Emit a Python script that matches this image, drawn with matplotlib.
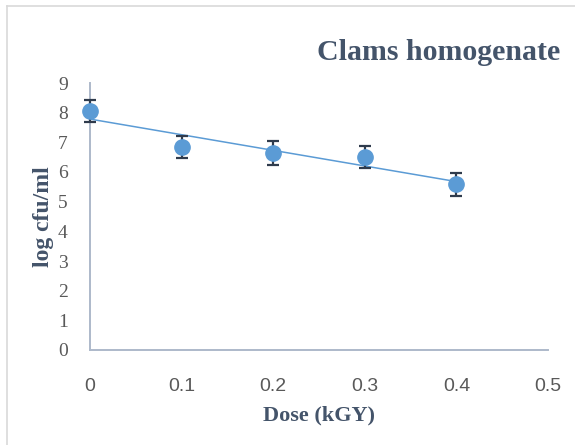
import numpy as np
import matplotlib
matplotlib.use("Agg")
import matplotlib.pyplot as plt
from matplotlib.lines import Line2D

# data
dose = [0.0, 0.1, 0.2, 0.3, 0.4]
log_cfu = [8.05, 6.85, 6.65, 6.52, 5.58]
err = [0.38, 0.38, 0.40, 0.37, 0.38]
x_ticks = [0, 0.1, 0.2, 0.3, 0.4, 0.5]
x_tick_labels = ["0", "0.1", "0.2", "0.3", "0.4", "0.5"]
y_ticks = list(range(0, 10))

blue = "#5B9BD5"
dark = "#2F3B4C"
spine_col = "#ADB9CA"
text_col = "#44546A"

fig = plt.figure(figsize=(5.75, 4.45), dpi=100)
ax = fig.add_axes([90 / 575, 95 / 445, 458 / 575, 267 / 445])

# linear trendline over the measured range
slope, intercept = np.polyfit(dose, log_cfu, 1)
tx = np.array([min(dose), max(dose)])
ax.plot(tx, slope * tx + intercept, color=blue, linewidth=1.1, zorder=2)

markers, caps, bars = ax.errorbar(dose, log_cfu, yerr=err, fmt="o", color=blue, markersize=11,
                                  ecolor=dark, elinewidth=1.6, capsize=4.5, capthick=1.6, zorder=3)
markers.set_clip_on(False)
for c in caps:
    c.set_clip_on(False)
for b in bars:
    b.set_clip_on(False)

ax.set_xlim(0, 0.5)
ax.set_ylim(0, 9)
ax.set_xticks(x_ticks)
ax.set_xticklabels(x_tick_labels, family="Liberation Sans", fontsize=14, color="#595959")
ax.set_yticks(y_ticks)
ax.set_yticklabels([str(v) for v in y_ticks], family="Liberation Serif", fontsize=14, color="#595959")
ax.tick_params(axis="x", length=0, pad=20)
ax.tick_params(axis="y", length=0, pad=16)

for s in ["top", "right"]:
    ax.spines[s].set_visible(False)
for s in ["left", "bottom"]:
    ax.spines[s].set_color(spine_col)
    ax.spines[s].set_linewidth(1.4)

ax.set_xlabel("Dose (kGY)", family="Liberation Serif", fontweight="bold", fontsize=16, color=text_col, labelpad=8)
ax.set_ylabel("log cfu/ml", family="Liberation Serif", fontweight="bold", fontsize=17, color=text_col, labelpad=3)

fig.text(560 / 575, 1 - 52 / 445, "Clams homogenate", family="Liberation Serif", fontweight="bold",
         fontsize=21.5, color=text_col, ha="right", va="center")

# chart area border (partially cropped in the reference)
fig.add_artist(Line2D([7 / 575, 7 / 575], [0, 1 - 6 / 445], transform=fig.transFigure, color="#D9D9D9", linewidth=1.2))
fig.add_artist(Line2D([7 / 575, 1], [1 - 6 / 445, 1 - 6 / 445], transform=fig.transFigure, color="#D9D9D9", linewidth=1.2))

fig.savefig("out.png", dpi=100)
